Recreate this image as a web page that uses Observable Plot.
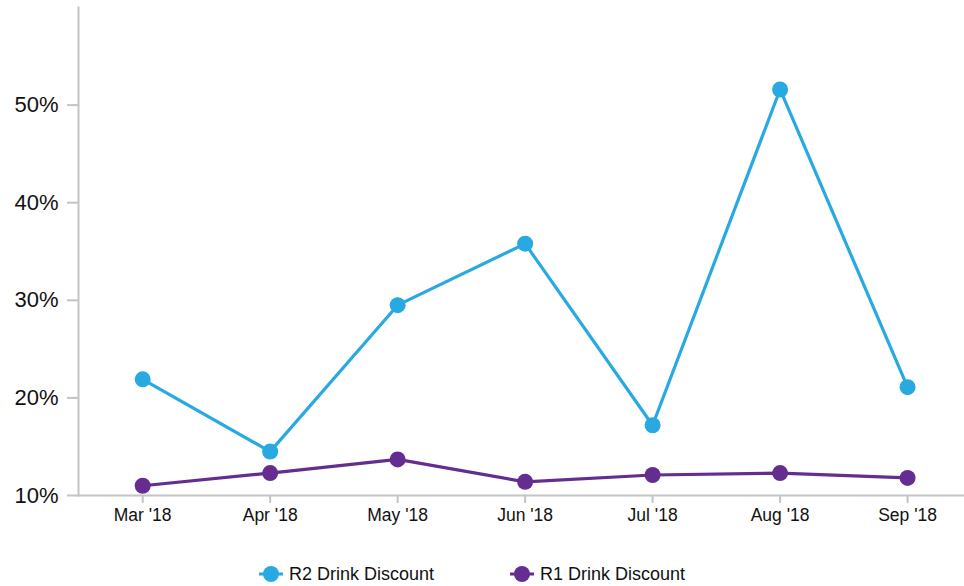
<!DOCTYPE html>
<html>
<head>
<meta charset="utf-8">
<script src="https://cdn.jsdelivr.net/npm/d3@7"></script>
<script src="https://cdn.jsdelivr.net/npm/@observablehq/plot@0.6"></script>
<style>
  body { margin: 0; background: #fff; font-family: "Liberation Sans", Arial, Helvetica, sans-serif; }
  #legend { display: flex; justify-content: center; gap: 76px; height: 58px; align-items: center; font-size: 18px; color: #111; padding-right: 20px; }
  .item { display: flex; align-items: center; gap: 6px; }
</style>
</head>
<body>
<div id="chart"></div>
<div id="legend"></div>
<script>
const months = ["Mar '18", "Apr '18", "May '18", "Jun '18", "Jul '18", "Aug '18", "Sep '18"];
const r2Values = [21.9, 14.5, 29.5, 35.8, 17.2, 51.6, 21.1];
const r1Values = [11.0, 12.3, 13.7, 11.4, 12.1, 12.3, 11.8];
const seriesNames = ["R2 Drink Discount", "R1 Drink Discount"];
const seriesColors = ["#29a9e1", "#662d91"];
const yTicks = [10, 20, 30, 40, 50];

const data = [];
months.forEach((m, i) => data.push({month: m, value: r2Values[i], series: seriesNames[0]}));
months.forEach((m, i) => data.push({month: m, value: r1Values[i], series: seriesNames[1]}));

const chart = Plot.plot({
  width: 964,
  height: 545,
  marginLeft: 78,
  marginRight: 0,
  marginTop: 7,
  marginBottom: 50,
  style: {fontFamily: "'Liberation Sans', Arial, Helvetica, sans-serif", color: "#111", background: "#fff"},
  x: {type: "point", domain: months, padding: 0.475, align: 0.53, round: false},
  y: {domain: [10, 60]},
  color: {domain: seriesNames, range: seriesColors},
  marks: [
    Plot.frame({anchor: "left", stroke: "#c4c4c4", strokeWidth: 2}),
    Plot.ruleY([10], {stroke: "#c4c4c4", strokeWidth: 2}),
    Plot.axisY({ticks: yTicks, tickFormat: d => d + "%", tickSize: 11, tickPadding: 9, fontSize: 22, stroke: "#c4c4c4", strokeWidth: 2, label: null}),
    Plot.axisX({tickSize: 8, tickPadding: 5, fontSize: 17.5, stroke: "#c4c4c4", strokeWidth: 2, label: null}),
    Plot.line(data, {x: "month", y: "value", z: "series", stroke: "series", strokeWidth: 3.2}),
    Plot.dot(data, {x: "month", y: "value", fill: "series", r: 8})
  ]
});
document.getElementById("chart").appendChild(chart);

const legend = document.getElementById("legend");
seriesNames.forEach((name, i) => {
  const item = document.createElement("div");
  item.className = "item";
  item.innerHTML = `<svg width="24" height="18"><line x1="0" y1="9" x2="24" y2="9" stroke="${seriesColors[i]}" stroke-width="3"/><circle cx="12" cy="9" r="8" fill="${seriesColors[i]}"/></svg><span>${name}</span>`;
  legend.appendChild(item);
});
</script>
</body>
</html>
